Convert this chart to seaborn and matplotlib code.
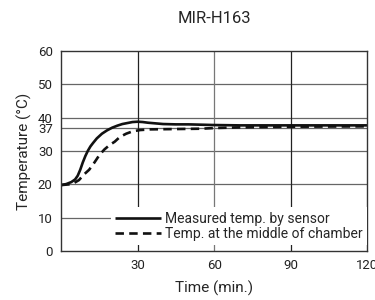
import numpy as np
import pandas as pd
import matplotlib
matplotlib.use('Agg')
import matplotlib.pyplot as plt
import seaborn as sns

t_sensor = [0, 2, 4, 5.5, 6.5, 7.5, 8.5, 9.5, 10.5, 11.5, 12.5, 14, 16, 18, 20, 22, 24, 26, 28, 30, 32, 34, 37, 40, 45, 50, 55, 60, 70, 80, 90, 100, 120]
temp_sensor = [19.8, 20.1, 20.7, 21.5, 22.6, 24.4, 26.6, 28.5, 30.1, 31.4, 32.4, 33.8, 35.2, 36.2, 37.0, 37.6, 38.1, 38.4, 38.7, 38.8, 38.7, 38.5, 38.3, 38.1, 38.0, 38.0, 37.9, 37.8, 37.7, 37.7, 37.7, 37.7, 37.7]

t_middle = [0, 3, 5, 7, 9, 11, 13, 15, 17, 19, 21, 23, 25.5, 28, 31, 35, 45, 55, 60, 70, 80, 90, 120]
temp_middle = [19.8, 20.0, 20.4, 21.3, 23.0, 24.4, 26.5, 28.8, 30.5, 31.8, 32.8, 34.2, 35.2, 35.9, 36.3, 36.5, 36.6, 36.7, 36.9, 37.1, 37.2, 37.3, 37.4]

labels = ['Measured temp. by sensor', 'Temp. at the middle of chamber']
y_ticks = [0, 10, 20, 30, 37, 40, 50, 60]
x_ticks = [30, 60, 90, 120]

df = pd.concat([
    pd.DataFrame({'time': t_sensor, 'temp': temp_sensor, 'series': labels[0]}),
    pd.DataFrame({'time': t_middle, 'temp': temp_middle, 'series': labels[1]}),
])

sns.set_style('white')
plt.rcParams['font.family'] = ['Roboto', 'DejaVu Sans']

fig = plt.figure(figsize=(3.75, 3.0), dpi=100)
ax = fig.add_axes([0.163, 0.163, 0.816, 0.667])

# 그리드 라인
for y in y_ticks[1:-1]:
    ax.axhline(y, color='#666666', lw=0.9, zorder=0)
for x in x_ticks[:-1]:
    ax.axvline(x, color='#222222' if x != 60 else '#777777', lw=0.9, zorder=0)

sns.lineplot(data=df, x='time', y='temp', hue='series', style='series',
             palette=['#111111', '#111111'], dashes=[(1, 0), (3.2, 2.0)],
             linewidth=1.9, ax=ax, legend=True)

ax.set_xlim(0, 120)
ax.set_ylim(0, 60)
ax.set_xticks(x_ticks)
ax.set_yticks(y_ticks)
ax.tick_params(axis='both', length=0, labelsize=9.5, colors='#222222', pad=6)
for s in ax.spines.values():
    s.set_color('#333333')
    s.set_linewidth(1.0)

ax.set_xlabel('Time (min.)', fontsize=11, labelpad=6)
ax.set_ylabel('Temperature (°C)', fontsize=11, labelpad=4)
ax.set_title('MIR-H163', fontsize=12, pad=20)

leg = ax.legend(title=None, loc='lower right', bbox_to_anchor=(1.0, 0.03),
                fontsize=10, frameon=True, fancybox=False, framealpha=1,
                handlelength=3.3, handletextpad=0.3, labelspacing=0.1,
                borderpad=0.3, borderaxespad=0.0)
leg.get_frame().set_facecolor('white')
leg.get_frame().set_edgecolor('none')

fig.savefig('out.png', dpi=100)
